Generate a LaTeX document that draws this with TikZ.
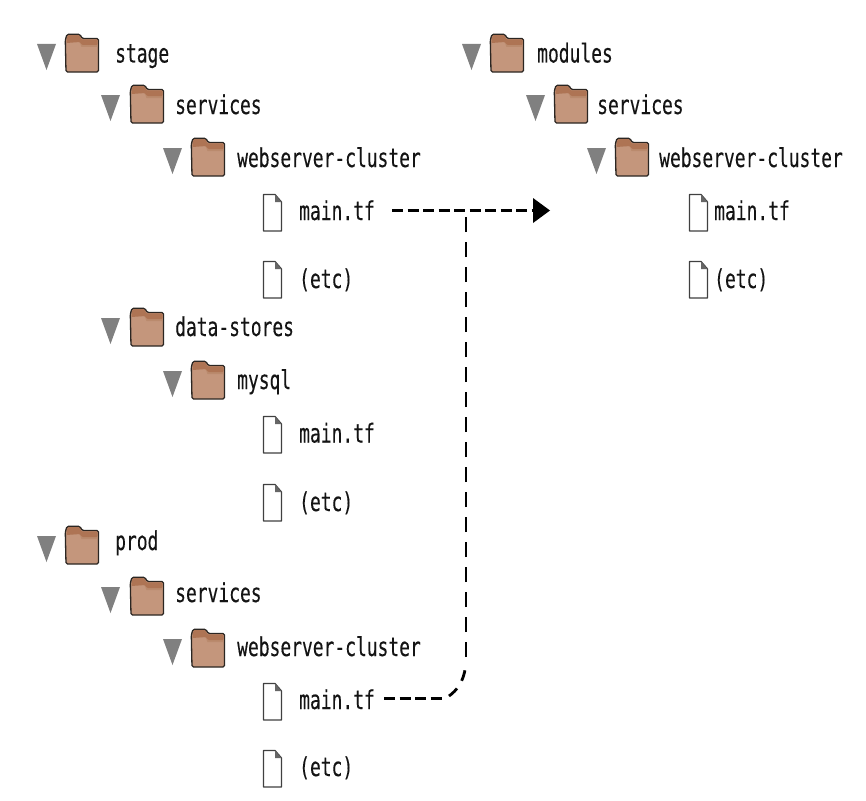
\documentclass[tikz,border=0pt]{standalone}
\usepackage{fontspec}
\newfontfamily\treefont[FakeStretch=0.69,FakeBold=0.25]{DejaVu Sans Mono}
\definecolor{fbody}{HTML}{C4967C}
\definecolor{fmid}{HTML}{BA8A6D}
\definecolor{ftab}{HTML}{AE7454}
\definecolor{fline}{HTML}{2B2622}
\tikzset{
  x=1pt,y=-1pt,
  lbl/.style={inner sep=0pt,anchor=base west,font=\treefont\fontsize{26}{28}\selectfont,text=black!92},
  tri/.style={fill=black!50,draw=none},
  filesh/.style={draw=black!75,line width=1.3pt,fill=white,line join=round},
  hlink/.style={line width=3pt,black,dash pattern=on 11pt off 4.5pt},
  vlink/.style={line width=2.8pt,black,dash pattern=on 15.5pt off 9.5pt},
  clink/.style={line width=2.8pt,black,dash pattern=on 11pt off 9pt},
}
% #1 name, #2 triangle left x, #3 folder left x, #4 text x, #5 folder top y, #6 baseline y, #7 label
\newcommand{\foldrow}[7]{%
  \begin{scope}[shift={(#3,#5)}]
    \fill[tri] (#2-#3,10) -- (#2-#3+19,10) -- (#2-#3+9.5,36) -- cycle;
    \draw[fline,line width=1.3pt,fill=fbody,rounded corners=1.5pt]
      (1,38) -- (0.3,6) -- (2,0.3) -- (15,0.3) -- (17,4.5) -- (33.5,4.5) -- (33.5,38) -- cycle;
    \fill[fmid] (1.2,8) -- (14.5,8) -- (16.5,13) -- (32.6,13) -- (32.6,9) -- (16,9) -- (14,6) -- (1.2,6) -- cycle;
    \fill[ftab,rounded corners=1pt] (1.4,9) -- (2.5,1.2) -- (14.5,1.2) -- (16.3,5.4) -- (32.7,5.4) -- (32.7,11) -- (17,11) -- (15,8) -- cycle;
  \end{scope}
  \node[lbl] (#1) at (#4,#6) {#7};}
% #1 name, #2 file left x, #3 text x, #4 file top y, #5 baseline y, #6 label
\newcommand{\filerow}[6]{%
  \begin{scope}[shift={(#2,#4)}]
    \draw[filesh] (0.5,0.5) -- (12,0.5) -- (18.5,8) -- (18.5,37) -- (0.5,37) -- cycle;
    \fill[black!60] (12,0.5) -- (12,8) -- (18.5,8) -- cycle;
  \end{scope}
  \node[lbl] (#1) at (#3,#5) {#6};}
\begin{document}
\begin{tikzpicture}
\useasboundingbox (0,0) rectangle (866,800);
\foldrow{stage}{37}{65}{115}{34}{62.5}{stage}
\foldrow{sserv}{101}{130}{175}{85}{114}{services}
\foldrow{swc}{163}{191}{237}{138}{167}{webserver-cluster}
\filerow{smain}{263}{299}{194}{220}{main.tf}
\filerow{setc}{263}{299}{261}{288}{(etc)}
\foldrow{sds}{101}{130}{175}{308}{336}{data-stores}
\foldrow{smysql}{163}{191}{237}{361}{389}{mysql}
\filerow{dmain}{263}{299}{416}{442.5}{main.tf}
\filerow{detc}{263}{299}{484}{511}{(etc)}
\foldrow{prod}{37}{65}{115}{526}{550}{prod}
\foldrow{pserv}{101}{130}{175}{577}{602}{services}
\foldrow{pwc}{163}{191}{237}{629}{656}{webserver-cluster}
\filerow{pmain}{263}{299}{683}{709}{main.tf}
\filerow{petc}{263}{299}{750}{776}{(etc)}
\foldrow{mods}{462}{490}{537}{34}{62.5}{modules}
\foldrow{mserv}{526}{554}{597}{85}{114}{services}
\foldrow{mwc}{587}{615}{659}{138}{167}{webserver-cluster}
\filerow{mmain}{689}{714}{194}{220}{main.tf}
\filerow{metc}{689}{714}{261}{288}{(etc)}
\coordinate (target) at (535,210.5);
\coordinate (tip) at (550,210.5);
\coordinate (junction) at (466,214);
\coordinate (bendlow) at (466,657);
\coordinate (smainout) at (392,210.5);
\coordinate (pmainout) at (384,698);
\draw[hlink] (smainout) -- (target);
\fill (533,198) -- (tip) -- (533,223) -- cycle;
\draw[hlink] (pmainout) -- (444,698);
\draw[clink] (449,696) .. controls (456,691) and (464,682) .. (465.5,666);
\draw[vlink] (bendlow) -- (junction);
\end{tikzpicture}
\end{document}
